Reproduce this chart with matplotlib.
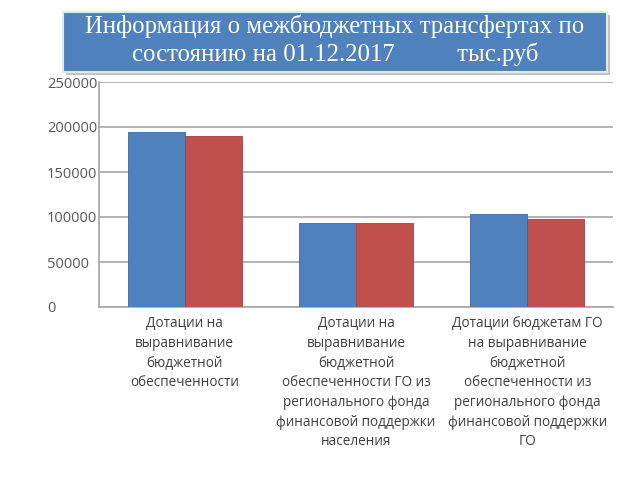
import matplotlib.pyplot as plt
import numpy as np
from matplotlib.patches import Rectangle

# данные
categories = [
    'Дотации на\nвыравнивание\nбюджетной\nобеспеченности',
    'Дотации на\nвыравнивание\nбюджетной\nобеспеченности ГО из\nрегионального фонда\nфинансовой поддержки\nнаселения',
    'Дотации бюджетам ГО\nна выравнивание\nбюджетной\nобеспеченности из\nрегионального фонда\nфинансовой поддержки\nГО',
]
plan = [194500, 93000, 103500]
fact = [190000, 93000, 98000]
yticks = [0, 50000, 100000, 150000, 200000, 250000]

title = 'Информация о межбюджетных трансфертах по\nсостоянию на 01.12.2017          тыс.руб'

plt.rcParams['font.family'] = ['Open Sans', 'DejaVu Sans']

fig = plt.figure(figsize=(6.4, 4.8), dpi=100)
ax = fig.add_axes([99 / 640, 1 - 307 / 480, 514 / 640, 225 / 480])

x = np.arange(len(categories))
w = 0.332
ax.bar(x - w / 2, plan, width=w, color='#4F81BD', edgecolor='#3f6a9e', linewidth=0.6, zorder=3)
ax.bar(x + w / 2, fact, width=w, color='#C0504D', edgecolor='#a04341', linewidth=0.6, zorder=3)

ax.set_xlim(-0.5, 2.5)
ax.set_ylim(0, 250000)
ax.set_yticks(yticks)
ax.set_yticklabels([str(v) for v in yticks], fontsize=10.5, color='#595959', ha='left')
ax.tick_params(axis='y', length=0, pad=37.5)
ax.set_xticks([])

ax.grid(True, axis='y', color='#a6a6a6', linewidth=1.2, zorder=0)
for s in ['top', 'right']:
    ax.spines[s].set_visible(False)
ax.spines['left'].set_color('#a6a6a6')
ax.spines['bottom'].set_color('#a6a6a6')
ax.spines['left'].set_linewidth(1.2)
ax.spines['bottom'].set_linewidth(1.2)

for xi, lab in zip(x, categories):
    ax.text(xi, -0.042, lab, transform=ax.get_xaxis_transform(), ha='center', va='top',
            fontsize=9.8, color='#404040', linespacing=1.42)

# заголовок в синей плашке
fig.patches.append(Rectangle((66 / 640, 1 - 75 / 480), 544 / 640, 60 / 480,
                             transform=fig.transFigure, facecolor='#9a9a9a', alpha=0.6,
                             edgecolor='none', zorder=5))
fig.patches.append(Rectangle((63 / 640, 1 - 72 / 480), 544 / 640, 60 / 480,
                             transform=fig.transFigure, facecolor='#4F81BD',
                             edgecolor='#dfe8f3', linewidth=1.5, zorder=6))
fig.text(335 / 640, 1 - 40 / 480, title, ha='center', va='center', color='white',
         fontsize=17.8, family=['Liberation Serif', 'DejaVu Serif'], linespacing=1.22, zorder=7)

fig.savefig('out.png', dpi=100)
